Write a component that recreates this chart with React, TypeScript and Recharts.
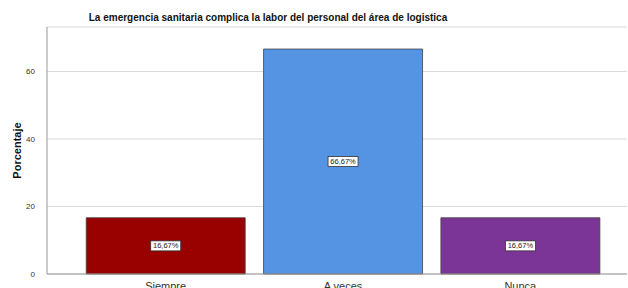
import React from "react";
import {
  BarChart,
  Bar,
  XAxis,
  YAxis,
  CartesianGrid,
  Cell,
  LabelList,
} from "recharts";

const categories = ["Siempre", "A veces", "Nunca"];
const porcentajes = [16.67, 66.67, 16.67];
const colores = ["#990000", "#5594e3", "#7b3596"];
const yTicks = [0, 20, 40, 60];

const data = categories.map((name, i) => ({ name, value: porcentajes[i] }));

const fmt = (v: number) => v.toFixed(2).replace(".", ",") + "%";

const BoxLabel = (props: any) => {
  const { x, y, width, height, value } = props;
  const cx = x + width / 2;
  const cy = y + height / 2;
  const w = 30;
  const h = 10;
  return (
    <g>
      <rect x={cx - w / 2} y={cy - h / 2} width={w} height={h} fill="#fff" stroke="#333" strokeWidth={0.8} />
      <text x={cx} y={cy + 2.5} textAnchor="middle" fontSize={7.5} fill="#222" fontFamily="Liberation Sans, Arial, sans-serif">
        {fmt(value)}
      </text>
    </g>
  );
};

export default function App() {
  return (
    <div style={{ position: "absolute", left: 0, top: 0, background: "#fff" }}>
      <BarChart
        width={628}
        height={288}
        data={data}
        margin={{ top: 27, right: 1, left: 0, bottom: 0 }}
        barCategoryGap="5.2%"
      >
        <text
          x={268}
          y={21}
          textAnchor="middle"
          fontSize={10}
          fontWeight="bold"
          fill="#111"
          fontFamily="Liberation Sans, Arial, sans-serif"
        >
          La emergencia sanitaria complica la labor del personal del área de logistica
        </text>
        <CartesianGrid vertical={false} stroke="#d9d9d9" />
        <XAxis
          dataKey="name"
          padding={{ left: 30, right: 18 }}
          tickLine={false}
          axisLine={{ stroke: "#999" }}
          height={14}
          tick={{ fontSize: 11, fill: "#333", fontFamily: "Liberation Sans, Arial, sans-serif" }}
          tickMargin={2}
          interval={0}
        />
        <YAxis
          width={47}
          domain={[0, 73.2]}
          ticks={yTicks}
          tickLine={false}
          axisLine={{ stroke: "#999" }}
          tick={{ fontSize: 8, fill: "#333", fontFamily: "Liberation Sans, Arial, sans-serif" }}
          tickMargin={6}
          label={{
            value: "Porcentaje",
            angle: -90,
            position: "insideLeft",
            offset: 17,
            style: { fontSize: 11, fontWeight: 600, fill: "#111", textAnchor: "middle", fontFamily: "Liberation Sans, Arial, sans-serif" },
          }}
        />
        <Bar dataKey="value" stroke="#444" strokeWidth={0.8} isAnimationActive={false}>
          {data.map((d, i) => (
            <Cell key={d.name} fill={colores[i]} />
          ))}
          <LabelList dataKey="value" content={BoxLabel} />
        </Bar>
      </BarChart>
    </div>
  );
}
